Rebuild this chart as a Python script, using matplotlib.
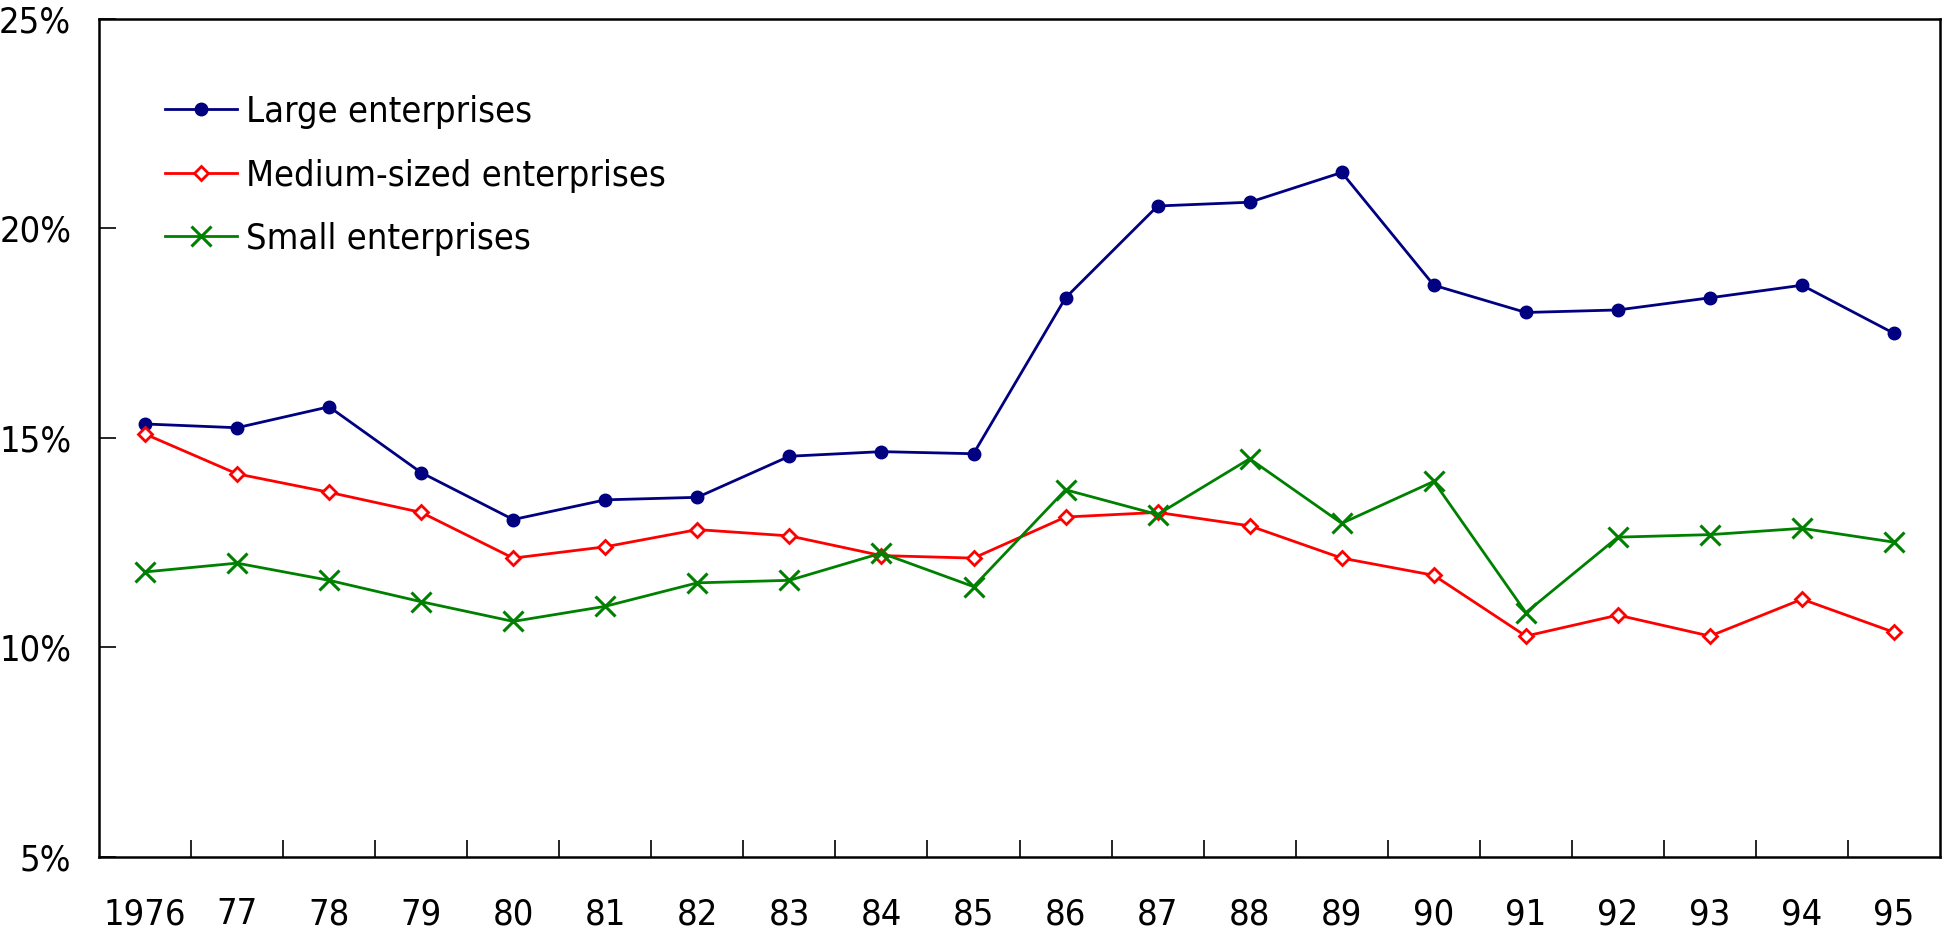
import matplotlib
matplotlib.use("Agg")
import matplotlib.pyplot as plt
from matplotlib.ticker import FixedLocator, PercentFormatter

plt.rcParams['font.family'] = ['DejaVu Sans']
plt.rcParams['font.stretch'] = 'condensed'

years = ["1976", "77", "78", "79", "80", "81", "82", "83", "84", "85",
         "86", "87", "88", "89", "90", "91", "92", "93", "94", "95"]

large = [15.33, 15.24, 15.74, 14.17, 13.05, 13.52, 13.58, 14.56, 14.67, 14.62,
         18.34, 20.53, 20.62, 21.33, 18.64, 17.99, 18.05, 18.34, 18.64, 17.49]
medium = [15.09, 14.14, 13.70, 13.22, 12.13, 12.40, 12.81, 12.66, 12.19, 12.13,
          13.11, 13.22, 12.90, 12.13, 11.72, 10.27, 10.77, 10.27, 11.15, 10.36]
small = [11.80, 12.01, 11.60, 11.09, 10.62, 10.98, 11.54, 11.60, 12.25, 11.45,
         13.76, 13.17, 14.50, 12.96, 13.96, 10.83, 12.63, 12.69, 12.84, 12.51]

series_names = ["Large enterprises", "Medium-sized enterprises", "Small enterprises"]

fig = plt.figure(figsize=(19.44, 9.31), dpi=100)
ax = fig.add_axes([0.0509, 0.0795, 0.9471, 0.9005])

x = list(range(len(years)))
ax.plot(x, large, color="#000080", lw=2.0, marker="o", ms=9,
        label=series_names[0])
ax.plot(x, medium, color="#ff0000", lw=2.0, marker="D", ms=7.5,
        mfc="white", mec="#ff0000", mew=2.0, label=series_names[1])
ax.plot(x, small, color="#008000", lw=2.0, marker="x", ms=14, mew=2.2,
        label=series_names[2])

ax.set_xlim(-0.5, len(years) - 0.5)
ax.set_ylim(5, 25)

ax.set_xticks(x)
ax.set_xticklabels(years)
ax.xaxis.set_minor_locator(FixedLocator([i + 0.5 for i in range(len(years) - 1)]))
ax.tick_params(axis="x", which="major", length=0, pad=29, labelsize=26)
ax.tick_params(axis="x", which="minor", direction="in", length=12, width=1.2)

ax.set_yticks([5, 10, 15, 20, 25])
ax.yaxis.set_major_formatter(PercentFormatter(decimals=0))
ax.tick_params(axis="y", which="major", direction="in", length=12, width=1.2,
               pad=20, labelsize=26)

for sp in ax.spines.values():
    sp.set_linewidth(1.8)

ax.legend(loc="upper left", bbox_to_anchor=(0.0357, 0.909), frameon=False,
          fontsize=26, handlelength=2.0, handletextpad=0.25, labelspacing=0.82,
          borderaxespad=0, borderpad=0)

fig.savefig("out.png", dpi=100)
